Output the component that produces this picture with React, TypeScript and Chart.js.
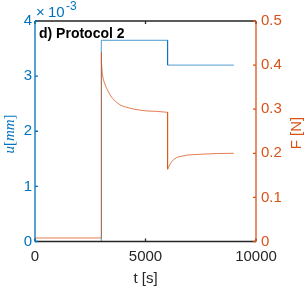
import React, { useEffect, useRef } from "react";
import { Chart, registerables } from "chart.js";

Chart.register(...registerables);

// displacement u (x10^-3 mm)
const dispTimes = [0, 3000, 3000, 6000, 6000, 9000];
const dispValues = [0, 0, 3.65, 3.65, 3.2, 3.2];

// force F [N]
const forceTimes = [
  0, 3000, 3000, 3015, 3045, 3080, 3125, 3200, 3275, 3380, 3500, 3620, 3730, 3880, 4030, 4250,
  4490, 4750, 5060, 5500, 6000, 6000, 6040, 6120, 6200, 6280, 6400, 6500, 6700, 6880, 7200, 7550,
  8200, 9000,
];
const forceValues = [
  0.008, 0.008, 0.429, 0.405, 0.381, 0.37, 0.362, 0.352, 0.344, 0.334, 0.325, 0.319, 0.314, 0.309,
  0.306, 0.303, 0.3, 0.298, 0.296, 0.295, 0.293, 0.164, 0.168, 0.176, 0.182, 0.186, 0.19, 0.192,
  0.194, 0.196, 0.197, 0.198, 0.1995, 0.2,
];

const xTicks = [0, 5000, 10000];
const uTicks = [0, 1, 2, 3, 4];
const fTicks = [0, 0.1, 0.2, 0.3, 0.4, 0.5];

const BLUE = "#0072BD";
const ORANGE = "#D95319";
const DARK = "#262626";
const SANS = '"Liberation Sans", Arial, sans-serif';
const SERIF = '"Liberation Serif", "Times New Roman", serif';

export default function App() {
  const ref = useRef<HTMLCanvasElement | null>(null);

  useEffect(() => {
    if (!ref.current) return;
    const decor = {
      id: "decor",
      afterDraw(chart: any) {
        const { ctx, chartArea } = chart;
        const { left, right, top, bottom } = chartArea;
        const xs = chart.scales.x;
        const ys = chart.scales.y;
        const y2 = chart.scales.y2;
        const tl = 3;
        ctx.save();
        ctx.lineWidth = 1.3;
        // top & bottom
        ctx.strokeStyle = DARK;
        ctx.beginPath();
        ctx.moveTo(left, top);
        ctx.lineTo(right, top);
        ctx.moveTo(left, bottom);
        ctx.lineTo(right, bottom);
        xTicks.forEach((t) => {
          const px = xs.getPixelForValue(t);
          ctx.moveTo(px, bottom);
          ctx.lineTo(px, bottom - tl);
          ctx.moveTo(px, top);
          ctx.lineTo(px, top + tl);
        });
        ctx.stroke();
        // left
        ctx.strokeStyle = BLUE;
        ctx.beginPath();
        ctx.moveTo(left, top);
        ctx.lineTo(left, bottom);
        uTicks.forEach((t) => {
          const py = ys.getPixelForValue(t);
          ctx.moveTo(left, py);
          ctx.lineTo(left + tl, py);
        });
        ctx.stroke();
        // right
        ctx.strokeStyle = ORANGE;
        ctx.beginPath();
        ctx.moveTo(right, top);
        ctx.lineTo(right, bottom);
        fTicks.forEach((t) => {
          const py = y2.getPixelForValue(t);
          ctx.moveTo(right, py);
          ctx.lineTo(right - tl, py);
        });
        ctx.stroke();

        // panel title
        ctx.fillStyle = "#000";
        ctx.font = `bold 14px ${SANS}`;
        ctx.textAlign = "left";
        ctx.textBaseline = "alphabetic";
        ctx.fillText("d) Protocol 2", left + 4, 38);

        // exponent
        ctx.fillStyle = BLUE;
        ctx.font = `15px ${SANS}`;
        ctx.fillText("×", left + 1, 17);
        ctx.fillText("10", left + 13, 17);
        ctx.font = `12px ${SANS}`;
        ctx.fillText("-3", left + 31, 10);

        // x title
        ctx.fillStyle = DARK;
        ctx.font = `15px ${SANS}`;
        ctx.textAlign = "center";
        ctx.fillText("t [s]", (left + right) / 2, 283);

        // right title
        ctx.save();
        ctx.translate(301, 133);
        ctx.rotate(-Math.PI / 2);
        ctx.fillStyle = ORANGE;
        ctx.font = `15px ${SANS}`;
        ctx.textAlign = "center";
        ctx.fillText("F [N]", 0, 0);
        ctx.restore();

        // left title (math style)
        ctx.save();
        ctx.translate(14, 134);
        ctx.rotate(-Math.PI / 2);
        ctx.fillStyle = BLUE;
        ctx.textAlign = "left";
        const parts = [
          { t: "u", f: `italic 15px ${SERIF}` },
          { t: "[", f: `15px ${SERIF}` },
          { t: "mm", f: `italic 15px ${SERIF}` },
          { t: "]", f: `15px ${SERIF}` },
        ];
        let total = 0;
        const widths = parts.map((p) => {
          ctx.font = p.f;
          const w = ctx.measureText(p.t).width;
          total += w;
          return w;
        });
        let cx = -total / 2;
        parts.forEach((p, i) => {
          ctx.font = p.f;
          ctx.fillText(p.t, cx, 0);
          cx += widths[i];
        });
        ctx.restore();
        ctx.restore();
      },
    };

    const chart = new Chart(ref.current, {
      type: "line",
      data: {
        datasets: [
          {
            label: "F",
            data: forceTimes.map((t, i) => ({ x: t, y: forceValues[i] })),
            yAxisID: "y2",
            borderColor: "rgba(217,83,25,0.75)",
            borderWidth: 1,
            pointRadius: 0,
            tension: 0,
            order: 0,
          },
          {
            label: "u",
            data: dispTimes.map((t, i) => ({ x: t, y: dispValues[i] })),
            yAxisID: "y",
            borderColor: "rgba(0,114,189,0.7)",
            borderWidth: 1,
            pointRadius: 0,
            tension: 0,
            order: 1,
          },
        ],
      },
      options: {
        responsive: false,
        animation: false,
        events: [],
        layout: { padding: { top: 21, left: 0, right: 0, bottom: 0 } },
        plugins: { legend: { display: false }, tooltip: { enabled: false } },
        scales: {
          x: {
            type: "linear",
            min: 0,
            max: 10000,
            afterBuildTicks: (s: any) => {
              s.ticks = xTicks.map((v) => ({ value: v }));
            },
            afterFit: (s: any) => {
              s.height = 46.5;
            },
            grid: { display: false, drawTicks: false },
            border: { display: false },
            ticks: {
              autoSkip: false,
              maxRotation: 0,
              padding: 6,
              color: DARK,
              font: { family: SANS, size: 15 },
              callback: (v: any) => String(v),
            },
          },
          y: {
            type: "linear",
            position: "left",
            min: 0,
            max: 4,
            afterBuildTicks: (s: any) => {
              s.ticks = uTicks.map((v) => ({ value: v }));
            },
            afterFit: (s: any) => {
              s.width = 35;
            },
            grid: { display: false, drawTicks: false },
            border: { display: false },
            ticks: {
              padding: 3,
              color: BLUE,
              font: { family: SANS, size: 15 },
              callback: (v: any) => String(v),
            },
          },
          y2: {
            type: "linear",
            position: "right",
            min: 0,
            max: 0.5,
            afterBuildTicks: (s: any) => {
              s.ticks = fTicks.map((v) => ({ value: v }));
            },
            afterFit: (s: any) => {
              s.width = 51;
            },
            grid: { display: false, drawTicks: false },
            border: { display: false },
            ticks: {
              padding: 5,
              color: ORANGE,
              font: { family: SANS, size: 15 },
              callback: (v: any) => (v === 0 ? "0" : Number(v).toFixed(1)),
            },
          },
        },
      },
      plugins: [decor],
    });
    return () => chart.destroy();
  }, []);

  return (
    <div style={{ position: "absolute", left: 0, top: 0, width: 307, height: 288, background: "#fff" }}>
      <canvas ref={ref} width={307} height={288} style={{ display: "block" }} />
    </div>
  );
}
